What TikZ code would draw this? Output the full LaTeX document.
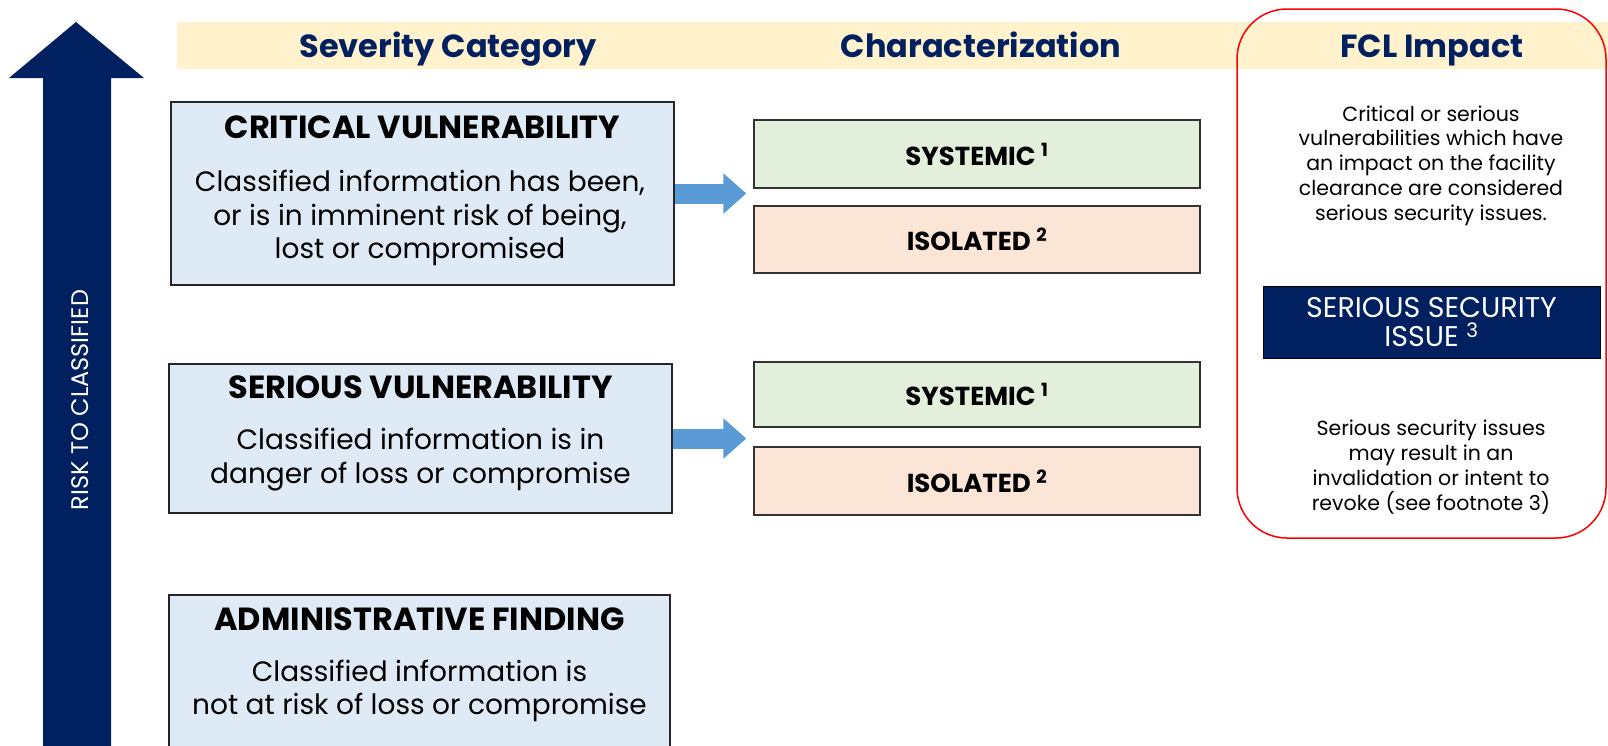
\documentclass[tikz,border=0pt]{standalone}
\usepackage{fontspec}
\setmainfont{Poppins}
\usetikzlibrary{positioning,arrows.meta,calc}
\definecolor{navy}{HTML}{002060}
\definecolor{hdrband}{HTML}{FFF2CC}
\definecolor{sevblue}{HTML}{DEEBF7}
\definecolor{sysgreen}{HTML}{E2EFDA}
\definecolor{isoorange}{HTML}{FBE5D6}
\definecolor{arrowblue}{HTML}{5B9BD5}

\begin{document}
\begin{tikzpicture}[x=1pt,y=-1pt,
  sevbox/.style={draw=black!85, line width=1.3pt, fill=sevblue, minimum width=503pt},
  chrbox/.style={draw=black!80, line width=1.3pt, minimum width=446pt, font=\fontsize{26}{28}\selectfont\bfseries},
  hdr/.style={text=navy, anchor=base, font=\fontsize{32}{34}\selectfont\bfseries},
  ttl/.style={font=\fontsize{32}{34}\selectfont\bfseries},
  body/.style={align=center, font=\fontsize{28}{33.5}\selectfont},
  fcl/.style={align=center, font=\fontsize{20.5}{24.8}\selectfont},
  fatarrow/.style={draw=arrowblue, line width=20pt, -{Triangle[length=23pt,width=39pt]}, shorten >=7pt},
]
\clip (0,0) rectangle (1608,745);

% risk arrow
\fill[navy] (43,760) -- (43,78) -- (9,78) -- (76,22) -- (144,78) -- (111,78) -- (111,760) -- cycle;
\node[rotate=90, text=white, font=\fontsize{24}{24}\selectfont] (risk) at (80,400) {RISK TO CLASSIFIED};

% headers
\fill[hdrband] (177,22) rectangle (1608,69);
\node[hdr] (h-sev) at (448,57) {Severity Category};
\node[hdr] (h-chr) at (981,57) {Characterization};
\node[hdr] (h-fcl) at (1432,57) {FCL Impact};

% severity boxes
\node[sevbox, minimum height=183pt] (crit) at (422.5,193.5) {};
\node[ttl] (crit-t) at (422.5,127) {CRITICAL VULNERABILITY};
\node[body] (crit-b) at (420,218) {Classified information has been,\\or is in imminent risk of being,\\lost or compromised};

\node[sevbox, minimum height=149pt] (seri) at (420.5,438.5) {};
\node[ttl] (seri-t) at (420.5,387) {SERIOUS VULNERABILITY};
\node[body] (seri-b) at (420.5,459.5) {Classified information is in\\danger of loss or compromise};

\node[sevbox, minimum width=501pt, minimum height=174pt] (admin) at (419.5,682) {};
\node[ttl] (admin-t) at (419.5,619) {ADMINISTRATIVE FINDING};
\node[body] (admin-b) at (419.5,691) {Classified information is\\not at risk of loss or compromise};

% characterization
\node[chrbox, fill=sysgreen, minimum height=68pt] (sys1) at (977,154) {SYSTEMIC \textsuperscript{1}};
\node[chrbox, fill=isoorange, minimum height=67pt] (iso1) at (977,239.5) {ISOLATED \textsuperscript{2}};
\node[chrbox, fill=sysgreen, minimum height=65pt] (sys2) at (977,394.5) {SYSTEMIC \textsuperscript{1}};
\node[chrbox, fill=isoorange, minimum height=68pt] (iso2) at (977,481) {ISOLATED \textsuperscript{2}};

\draw[fatarrow] (crit.east) -- (crit.east -| sys1.west);
\draw[fatarrow] (seri.east) -- (seri.east -| sys2.west);

% FCL impact
\draw[red, line width=1.5pt, rounded corners=50pt] (1237,9) rectangle (1606,538);
\node[fcl] (fcl-top) at (1431,165.5) {Critical or serious\\vulnerabilities which have\\an impact on the facility\\clearance are considered\\serious security issues.};
\node[draw=black, fill=navy, text=white, minimum width=337pt, minimum height=72pt, align=center, font=\fontsize{28.5}{29}\selectfont] (ssi) at (1431.5,322) {SERIOUS SECURITY\\ISSUE \textsuperscript{3}};
\node[fcl] (fcl-bot) at (1431,467) {Serious security issues\\may result in an\\invalidation or intent to\\revoke (see footnote 3)};
\end{tikzpicture}
\end{document}
